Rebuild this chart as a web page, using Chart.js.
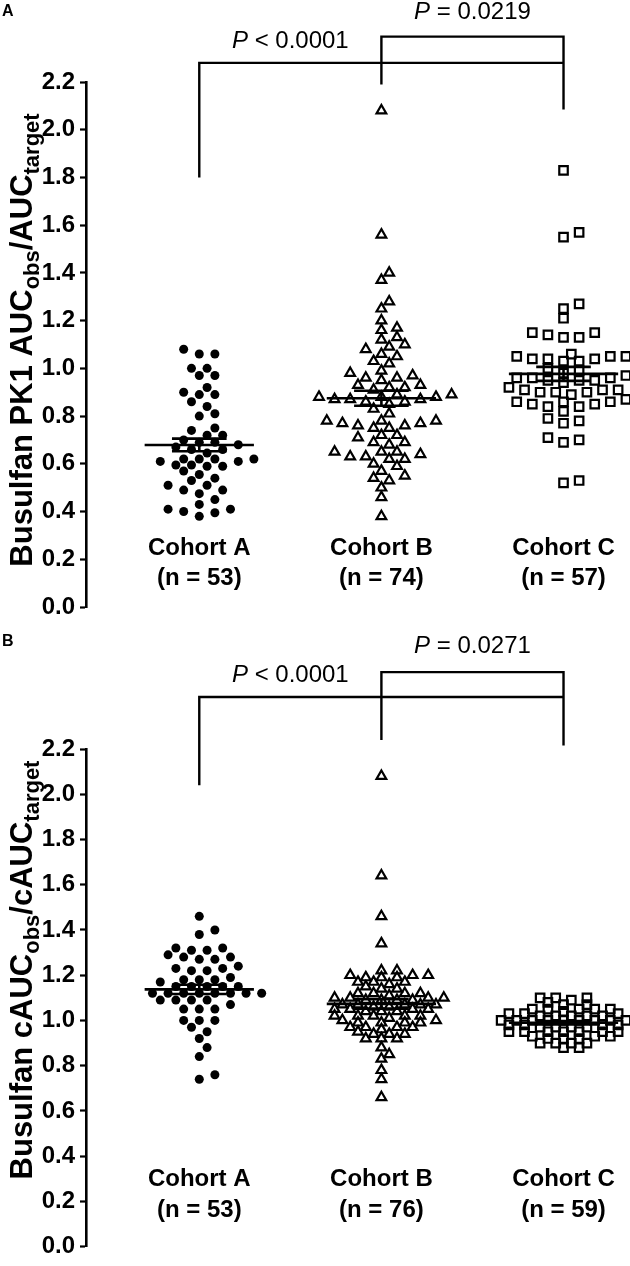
<!DOCTYPE html>
<html>
<head>
<meta charset="utf-8">
<script src="https://cdn.jsdelivr.net/npm/chart.js@4.4.1/dist/chart.umd.min.js"></script>
<style>
  html, body { margin: 0; padding: 0; background: #fff; }
  #wrap { position: relative; width: 630px; height: 1266px; }
  .panel { position: absolute; left: 0; width: 630px; }
  #pa { top: 0; height: 630px; }
  #pb { top: 630px; height: 636px; }
</style>
</head>
<body>
<div id="wrap">
  <div class="panel" id="pa"><canvas id="chartA"></canvas></div>
  <div class="panel" id="pb"><canvas id="chartB"></canvas></div>
</div>
<script>
var cohortNames = ["Cohort A", "Cohort B", "Cohort C"];
var yTickValues = [0.0, 0.2, 0.4, 0.6, 0.8, 1.0, 1.2, 1.4, 1.6, 1.8, 2.0, 2.2];

// panel A - busulfan PK1 AUCobs/AUCtarget
var pk1CohortA = [1.08, 1.06, 1.06, 1.00, 1.00, 0.97, 0.97, 0.92, 0.90, 0.89, 0.89, 0.86, 0.84,
  0.81, 0.80, 0.75, 0.74, 0.72, 0.72, 0.70, 0.69, 0.69, 0.68, 0.67, 0.66, 0.66, 0.645,
  0.62, 0.62, 0.62, 0.62, 0.61, 0.61, 0.595, 0.595, 0.59, 0.59, 0.57, 0.555, 0.54, 0.53,
  0.51, 0.51, 0.49, 0.49, 0.475, 0.45, 0.43, 0.41, 0.41, 0.40, 0.395, 0.38];
var pk1CohortB = [2.08, 1.56, 1.40, 1.37, 1.28, 1.25, 1.20, 1.17, 1.16, 1.13, 1.12, 1.10, 1.09,
  1.08, 1.06, 1.05, 1.03, 1.02, 0.99, 0.98, 0.97, 0.96, 0.96, 0.95, 0.93, 0.92, 0.93, 0.92,
  0.91, 0.89, 0.88, 0.87, 0.88, 0.89, 0.86, 0.87, 0.88, 0.86, 0.87, 0.85, 0.83, 0.81, 0.78,
  0.78, 0.77, 0.78, 0.77, 0.76, 0.75, 0.76, 0.75, 0.72, 0.71, 0.72, 0.69, 0.69, 0.68, 0.65,
  0.65, 0.64, 0.65, 0.63, 0.62, 0.63, 0.62, 0.59, 0.60, 0.57, 0.55, 0.54, 0.53, 0.50, 0.46, 0.38];
var pk1CohortC = [1.83, 1.57, 1.55, 1.27, 1.25, 1.21, 1.14, 1.13, 1.15, 1.13, 1.15, 1.04, 1.05,
  1.03, 1.04, 1.05, 1.04, 1.03, 1.05, 1.06, 0.99, 0.98, 1.00, 0.97, 0.95, 0.96, 0.96, 0.95,
  0.96, 0.95, 0.94, 0.91, 0.90, 0.92, 0.90, 0.91, 0.89, 0.92, 0.90, 0.91, 0.86, 0.85, 0.84,
  0.86, 0.87, 0.85, 0.84, 0.86, 0.82, 0.78, 0.77, 0.79, 0.70, 0.69, 0.71, 0.53, 0.52];
var pk1PValues = ["< 0.0001", "= 0.0219"];

// panel B - busulfan cAUCobs/cAUCtarget
var cAucCohortA = [1.46, 1.40, 1.38, 1.32, 1.32, 1.31, 1.31, 1.29, 1.28, 1.28, 1.27, 1.27, 1.24,
  1.23, 1.23, 1.22, 1.22, 1.19, 1.18, 1.18, 1.18, 1.17, 1.15, 1.15, 1.15, 1.15, 1.15,
  1.12, 1.12, 1.12, 1.12, 1.12, 1.12, 1.12, 1.12, 1.09, 1.09, 1.09, 1.09, 1.07, 1.05, 1.05,
  1.05, 1.00, 1.00, 1.00, 0.97, 0.95, 0.92, 0.88, 0.84, 0.76, 0.74];
var cAucCohortB = [2.08, 1.64, 1.46, 1.34, 1.22, 1.22, 1.20, 1.19, 1.20, 1.19, 1.20, 1.19,
  1.17, 1.17, 1.16, 1.17, 1.15, 1.14, 1.14, 1.12, 1.12, 1.11, 1.12, 1.12,
  1.10, 1.09, 1.10, 1.09, 1.10, 1.09, 1.10, 1.09, 1.07, 1.07, 1.06, 1.07, 1.07, 1.06, 1.07,
  1.05, 1.04, 1.05, 1.04, 1.05, 1.04, 1.05, 1.02, 1.02, 1.01, 1.02, 1.02, 1.02,
  0.99, 1.00, 0.99, 1.00, 0.99, 0.99, 0.97, 0.97, 0.97, 0.96, 0.97, 0.94, 0.95, 0.94, 0.94,
  0.92, 0.92, 0.92, 0.88, 0.85, 0.83, 0.78, 0.74, 0.66];
var cAucCohortC = [1.10, 1.10, 1.09, 1.10, 1.08, 1.07, 1.07, 1.05, 1.05, 1.05, 1.05, 1.04, 1.05,
  1.03, 1.02, 1.02, 1.03, 1.02, 1.02, 1.03, 1.02, 1.00, 1.00, 1.00, 1.00, 1.00, 1.00, 1.00,
  1.00, 1.00, 0.98, 0.97, 0.98, 0.97, 0.98, 0.97, 0.98, 0.97, 0.98, 0.95, 0.95, 0.95, 0.95,
  0.95, 0.95, 0.95, 0.95, 0.93, 0.92, 0.93, 0.92, 0.93, 0.92, 0.90, 0.90, 0.90, 0.90, 0.88, 0.88];
var cAucPValues = ["< 0.0001", "= 0.0271"];

var FONT = '"Liberation Sans", Arial, sans-serif';
var markerStyles = [
  { style: 'circle', radius: 4.5, fill: '#000', border: 0 },
  { style: 'triangle', radius: 5.6, fill: 'rgba(0,0,0,0)', border: 2.2 },
  { style: 'rect', radius: 6.0, fill: 'rgba(0,0,0,0)', border: 2.2 }
];

// simple beeswarm on a grid: markers kept apart by an ellipse of gapX by gapY px
function swarm(values, center, xs, ys, gap) {
  var step = 7.8;
  var pxPerUnit = xs.getPixelForValue(1) - xs.getPixelForValue(0);
  var idx = values.map(function (v, i) { return i; });
  idx.sort(function (a, b) { return values[a] - values[b]; });
  var placed = [];
  var out = [];
  idx.forEach(function (i) {
    var py = ys.getPixelForValue(values[i]);
    var off = 0;
    for (var k = 0; k < 80; k++) {
      off = k === 0 ? 0 : (k % 2 ? 1 : -1) * Math.ceil(k / 2) * step;
      var hit = placed.some(function (p) {
        var dx = (off - p.off) / gap[0], dy = (py - p.py) / gap[1];
        return dx * dx + dy * dy < 1;
      });
      if (!hit) break;
    }
    placed.push({ off: off, py: py });
    out[i] = { x: center + off / pxPerUnit, y: values[i] };
  });
  return out;
}

function meanSem(vals) {
  var n = vals.length;
  var mean = vals.reduce(function (a, b) { return a + b; }, 0) / n;
  var ss = vals.reduce(function (a, b) { return a + (b - mean) * (b - mean); }, 0);
  return { mean: mean, sem: Math.sqrt(ss / (n - 1)) / Math.sqrt(n) };
}

function drawP(ctx, value, cx, cy) {
  ctx.textBaseline = 'middle';
  ctx.font = 'italic 24px ' + FONT;
  var w1 = ctx.measureText('P').width;
  ctx.font = '24px ' + FONT;
  var rest = ' ' + value;
  var w2 = ctx.measureText(rest).width;
  var x0 = cx - (w1 + w2) / 2;
  ctx.textAlign = 'left';
  ctx.font = 'italic 24px ' + FONT;
  ctx.fillText('P', x0, cy);
  ctx.font = '24px ' + FONT;
  ctx.fillText(rest, x0 + w1, cy);
}

function drawTitle(ctx, parts, x, cy) {
  var mainFont = 'bold 31px ' + FONT, subFont = 'bold 22px ' + FONT;
  ctx.save();
  ctx.translate(x, cy);
  ctx.rotate(-Math.PI / 2);
  var total = 0;
  parts.forEach(function (p) {
    ctx.font = p[1] ? subFont : mainFont;
    total += ctx.measureText(p[0]).width;
  });
  var pos = -total / 2;
  ctx.textAlign = 'left';
  ctx.textBaseline = 'alphabetic';
  parts.forEach(function (p) {
    ctx.font = p[1] ? subFont : mainFont;
    ctx.fillText(p[0], pos, p[1] ? 7 : 0);
    pos += ctx.measureText(p[0]).width;
  });
  ctx.restore();
}

var annotate = {
  id: 'annotate',
  afterDraw: function (chart) {
    var o = chart.options.plugins.annotate;
    var ctx = chart.ctx, xs = chart.scales.x, ys = chart.scales.y;
    ctx.save();
    ctx.fillStyle = '#000';
    var base = ys.getPixelForValue(0);
    ctx.font = 'bold 24px ' + FONT;
    ctx.textAlign = 'center';
    ctx.textBaseline = 'middle';
    o.groups.forEach(function (g, i) {
      var x = xs.getPixelForValue(i + 1);
      ctx.fillText(cohortNames[i], x, base - o.labelOffsets[0]);
      ctx.fillText('(n = ' + g.length + ')', x, base - o.labelOffsets[1]);
    });
    var b = o.brackets;
    drawP(ctx, o.pValues[0], xs.getPixelForValue(1.5), ys.getPixelForValue(b.low) - o.pOffsets[0]);
    drawP(ctx, o.pValues[1], xs.getPixelForValue(2.5), ys.getPixelForValue(b.high) - o.pOffsets[1]);
    drawTitle(ctx, o.title, 32, o.titleY);
    ctx.font = 'bold 16px ' + FONT;
    ctx.textAlign = 'left';
    ctx.textBaseline = 'top';
    ctx.fillText(o.letter, 2, 4);
    ctx.restore();
  }
};

function makePanel(canvasId, cfg) {
  var datasets = [];
  cfg.groups.forEach(function (vals, i) {
    var m = markerStyles[i];
    datasets.push({
      type: 'scatter',
      label: cohortNames[i],
      data: vals.map(function (v) { return { x: i + 1, y: v }; }),
      pointStyle: m.style,
      pointRadius: m.radius,
      pointHoverRadius: m.radius,
      pointBackgroundColor: m.fill,
      pointBorderColor: '#000',
      pointBorderWidth: m.border,
      order: 2,
      clip: false
    });
  });
  // mean with SEM
  var seg = [];
  cfg.groups.forEach(function (vals, i) {
    var s = meanSem(vals), c = i + 1, gap = { x: null, y: null };
    seg.push({ x: c - 0.3, y: s.mean }, { x: c + 0.3, y: s.mean }, gap,
      { x: c, y: s.mean - s.sem }, { x: c, y: s.mean + s.sem }, gap,
      { x: c - 0.15, y: s.mean + s.sem }, { x: c + 0.15, y: s.mean + s.sem }, gap,
      { x: c - 0.15, y: s.mean - s.sem }, { x: c + 0.15, y: s.mean - s.sem }, gap);
  });
  var lineStyle = { type: 'line', borderColor: '#000', pointRadius: 0, fill: false,
    spanGaps: false, tension: 0, clip: false, order: 0 };
  datasets.push(Object.assign({ data: seg, borderWidth: 2.6 }, lineStyle));
  var b = cfg.brackets;
  datasets.push(Object.assign({
    borderWidth: 2.4,
    data: [
      { x: 1, y: b.leftFoot }, { x: 1, y: b.low }, { x: 3, y: b.low }, { x: null, y: null },
      { x: 2, y: b.midFoot }, { x: 2, y: b.high }, { x: 3, y: b.high }, { x: 3, y: b.rightFoot }
    ]
  }, lineStyle));

  var chart = new Chart(document.getElementById(canvasId), {
    type: 'scatter',
    data: { datasets: datasets },
    options: {
      responsive: true,
      maintainAspectRatio: false,
      animation: false,
      layout: { padding: { top: cfg.padTop, bottom: cfg.padBottom, left: 0, right: 0 } },
      plugins: {
        legend: { display: false },
        tooltip: { enabled: false },
        annotate: {
          groups: cfg.groups, brackets: b, pValues: cfg.pValues, pOffsets: cfg.pOffsets,
          labelOffsets: cfg.labelOffsets, title: cfg.title, titleY: cfg.titleY,
          letter: cfg.letter
        }
      },
      scales: {
        x: { type: 'linear', display: false, min: 0.378, max: 3.32 },
        y: {
          min: 0, max: 2.2,
          afterFit: function (s) { s.width = 86; },
          afterBuildTicks: function (s) {
            s.ticks = yTickValues.map(function (v) { return { value: v }; });
          },
          border: { display: true, color: '#000', width: 2.6 },
          grid: { drawOnChartArea: false, drawTicks: true, tickLength: 6, tickColor: '#000', tickWidth: 2.2 },
          ticks: {
            color: '#000', padding: 5,
            font: { family: FONT, size: 24, weight: 'bold' },
            callback: function (v) { return Number(v).toFixed(1); }
          }
        }
      }
    },
    plugins: [annotate]
  });
  cfg.groups.forEach(function (vals, i) {
    chart.data.datasets[i].data = swarm(vals, i + 1, chart.scales.x, chart.scales.y, cfg.gaps[i]);
  });
  chart.update('none');
  return chart;
}

makePanel('chartA', {
  groups: [pk1CohortA, pk1CohortB, pk1CohortC],
  gaps: [[9.6, 9.6], [9.6, 8.2], [9.6, 9.0]],
  pValues: pk1PValues,
  brackets: { low: 2.28, high: 2.39, leftFoot: 1.80, midFoot: 2.19, rightFoot: 2.085 },
  pOffsets: [22, 24],
  labelOffsets: [59, 29],
  padTop: 82, padBottom: 23,
  title: [["Busulfan PK1 AUC", 0], ["obs", 1], ["/AUC", 0], ["target", 1]],
  titleY: 340,
  letter: 'A'
});

makePanel('chartB', {
  groups: [cAucCohortA, cAucCohortB, cAucCohortC],
  gaps: [[9.6, 9.6], [9.6, 4.6], [9.6, 4.6]],
  pValues: cAucPValues,
  brackets: { low: 2.43, high: 2.54, leftFoot: 2.04, midFoot: 2.24, rightFoot: 2.215 },
  pOffsets: [22, 26],
  labelOffsets: [67, 36],
  padTop: 119, padBottom: 17,
  title: [["Busulfan cAUC", 0], ["obs", 1], ["/cAUC", 0], ["target", 1]],
  titleY: 340,
  letter: 'B'
});
</script>
</body>
</html>
